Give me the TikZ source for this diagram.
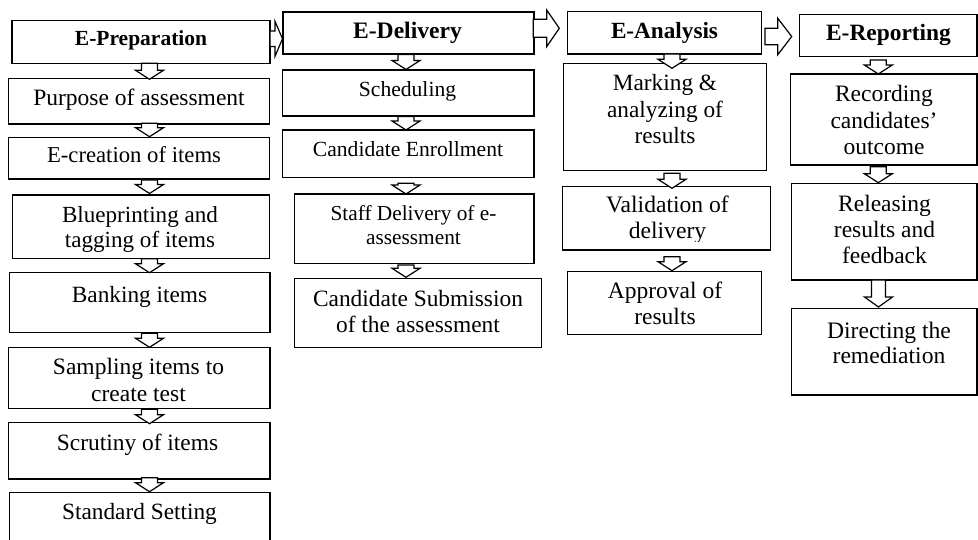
\documentclass[tikz,border=0pt]{standalone}
\usepackage{fontspec}
\setmainfont{Liberation Serif}
\usetikzlibrary{calc}
\newcommand\mystrut{\rule{0pt}{17pt}}
\newcommand\mkbox[5]{\node[box, anchor=north west, minimum width={(#4-#2)*1pt}, minimum height={(#5-#3)*1pt}] (#1) at (#2,#3) {};}
% down block arrow: from, to, x, top shift, tip shift, head length, shaft half, head half
\newcommand\dnarr[8]{%
 \draw[arr] let \p1=($(#1.south)+(0,#4)$), \p2=($(#2.north)+(0,#5)$) in
 ({(#3-#7)*1pt},\y1) -- ({(#3+#7)*1pt},\y1) -- ({(#3+#7)*1pt},{\y2+#6pt}) -- ({(#3+#8)*1pt},{\y2+#6pt}) -- ({#3*1pt},\y2) -- ({(#3-#8)*1pt},{\y2+#6pt}) -- ({(#3-#7)*1pt},{\y2+#6pt}) -- cycle;}
% right block arrow: from, to, y centre, start shift, tip shift, head length, shaft half, head half
\newcommand\rtarr[8]{%
 \draw[arr] let \p1=($(#1.east)+(#4,0)$), \p2=($(#2.west)+(#5,0)$) in
 (\x1,{-(#3-#7)*1pt}) -- ({\x2-#6pt},{-(#3-#7)*1pt}) -- ({\x2-#6pt},{-(#3-#8)*1pt}) -- (\x2,{-#3*1pt}) -- ({\x2-#6pt},{-(#3+#8)*1pt}) -- ({\x2-#6pt},{-(#3+#7)*1pt}) -- (\x1,{-(#3+#7)*1pt}) -- cycle;}
\begin{document}
\begin{tikzpicture}[x=1pt,y=-1pt,
  box/.style={draw, line width=1.5pt, inner sep=0pt, outer sep=0pt, fill=white},
  txt/.style={inner sep=0pt, outer sep=0pt, align=center, anchor=north},
  arr/.style={draw, line width=1.2pt, fill=white, line join=miter}]
\useasboundingbox (0,0) rectangle (978,540);
\clip (0,0) rectangle (978,540);
\fill[white] (0,0) rectangle (978,540);
% ---------- boxes ----------
\mkbox{H1}{12}{20.7}{270}{63.3}
\mkbox{P1}{8.3}{78.7}{269.3}{124}
\mkbox{P2}{8.3}{137.7}{269.3}{179}
\mkbox{P3}{12.7}{195}{269.3}{258.7}
\mkbox{P4}{9.3}{272.7}{270}{332.7}
\mkbox{P5}{8.3}{347.7}{270}{408.7}
\mkbox{P6}{8.3}{422.7}{270}{479}
\mkbox{P7}{9.3}{492.7}{270}{548}
\mkbox{H2}{283}{12}{534}{54}
\mkbox{D1}{282.7}{70}{534}{116}
\mkbox{D2}{282.7}{130}{534}{177.3}
\mkbox{D3}{294.3}{194}{534}{263.3}
\mkbox{D4}{294.3}{278.3}{541.7}{347.7}
\mkbox{H3}{567.3}{11.7}{761.7}{54}
\mkbox{A1}{563.3}{63.3}{766.7}{170.7}
\mkbox{A2}{562.7}{186.7}{770.7}{250}
\mkbox{A3}{567.7}{271.7}{761.7}{334.3}
\mkbox{H4}{799.3}{14.3}{977.2}{56.7}
\mkbox{R1}{790.7}{74}{977.2}{165}
\mkbox{R2}{791.7}{183.3}{977.2}{280}
\mkbox{R3}{791.7}{308.3}{977.2}{395}
% ---------- arrows ----------
\rtarr{H1}{H2}{38.8}{0}{-0.5}{7.5}{7.8}{17.5}
\rtarr{H2}{H3}{28.3}{-0.7}{-8}{12.6}{9}{18.3}
\rtarr{H3}{H4}{36.5}{3.3}{-7.6}{14}{8.3}{18.3}
\dnarr{H1}{P1}{149.5}{0}{0.6}{9}{8}{14}
\dnarr{P1}{P2}{149.5}{-0.7}{-1}{9}{8}{14}
\dnarr{P2}{P3}{149.5}{1}{-1.5}{9}{8}{14}
\dnarr{P3}{P4}{149.5}{0}{0}{9}{8}{14}
\dnarr{P4}{P5}{149.5}{0.6}{-0.4}{9}{8}{14}
\dnarr{P5}{P6}{149.5}{0.6}{1}{9}{8}{14}
\dnarr{P6}{P7}{149.5}{-1.3}{-1}{9}{8}{14}
\dnarr{H2}{D1}{406}{0.5}{-0.5}{9}{8}{14}
\dnarr{D1}{D2}{406}{0.5}{0}{9}{8}{14}
\dnarr{D2}{D3}{406}{6}{0}{9}{8}{14}
\dnarr{D3}{D4}{406}{1.7}{-1}{9}{8}{14}
\dnarr{H3}{A1}{672}{0}{5}{9}{8}{14}
\dnarr{A1}{A2}{672}{2.6}{1.6}{9}{8}{14}
\dnarr{A2}{A3}{672}{6.7}{-1}{9}{8}{14}
\dnarr{H4}{R1}{878.3}{3.3}{0}{9}{8}{14}
\dnarr{R1}{R2}{878.3}{1.7}{-0.6}{9}{8}{14}
\dnarr{R2}{R3}{878.5}{0}{-1.3}{10}{7}{14}
% ---------- texts ----------
\node[txt, font=\fontsize{21.5pt}{26pt}\selectfont\bfseries] (tH1) at (141,29) {\mystrut E-Preparation};
\node[txt, font=\fontsize{23.5pt}{26pt}\selectfont] (tP1) at (139,89) {\mystrut Purpose of assessment};
\node[txt, font=\fontsize{22.7pt}{26pt}\selectfont] (tP2) at (134,146) {\mystrut E-creation of items};
\node[txt, font=\fontsize{23.1pt}{25pt}\selectfont] (tP3) at (140,206) {\mystrut Blueprinting and\\tagging of items};
\node[txt, font=\fontsize{23.3pt}{26pt}\selectfont] (tP4) at (139.5,285) {\mystrut Banking items};
\node[txt, font=\fontsize{23.5pt}{27pt}\selectfont] (tP5) at (138.5,357) {\mystrut Sampling items to\\create test};
\node[txt, font=\fontsize{23.4pt}{26pt}\selectfont] (tP6) at (137.5,433) {\mystrut Scrutiny of items};
\node[txt, font=\fontsize{23.3pt}{26pt}\selectfont] (tP7) at (139.5,502) {\mystrut Standard Setting};
\node[txt, font=\fontsize{23.6pt}{26pt}\selectfont\bfseries] (tH2) at (407.5,22) {\mystrut E-Delivery};
\node[txt, font=\fontsize{21.6pt}{26pt}\selectfont] (tD1) at (407.5,80) {\mystrut Scheduling};
\node[txt, font=\fontsize{21.6pt}{26pt}\selectfont] (tD2) at (408,140) {\mystrut Candidate Enrollment};
\node[txt, font=\fontsize{21.3pt}{24pt}\selectfont] (tD3) at (413.5,204) {\mystrut Staff Delivery of e-\\assessment};
\node[txt, font=\fontsize{23.4pt}{25pt}\selectfont] (tD4) at (418,290) {\mystrut Candidate Submission\\of the assessment};
\node[txt, font=\fontsize{23.2pt}{26pt}\selectfont\bfseries] (tH3) at (664.5,22) {\mystrut E-Analysis};
\node[txt, font=\fontsize{23.3pt}{26.3pt}\selectfont] (tA1) at (665,74) {\mystrut Marking \&\\analyzing of\\results};
\begin{scope}
\clip (560,180) rectangle (775,241.5);
\node[txt, font=\fontsize{23.6pt}{26pt}\selectfont] (tA2) at (667.5,196) {\mystrut Validation of\\delivery};
\end{scope}
\node[txt, font=\fontsize{23.5pt}{26pt}\selectfont] (tA3) at (665,281) {\mystrut Approval of\\results};
\node[txt, font=\fontsize{23.4pt}{26pt}\selectfont\bfseries] (tH4) at (888.5,24) {\mystrut E-Reporting};
\node[txt, font=\fontsize{23.5pt}{26.5pt}\selectfont] (tR1) at (884,85) {\mystrut Recording\\candidates’\\outcome};
\node[txt, font=\fontsize{23.5pt}{26pt}\selectfont] (tR2) at (884.5,195) {\mystrut Releasing\\results and\\feedback};
\node[txt, font=\fontsize{23.6pt}{25.5pt}\selectfont] (tR3) at (889,321) {\mystrut Directing the\\remediation};
\end{tikzpicture}
\end{document}
